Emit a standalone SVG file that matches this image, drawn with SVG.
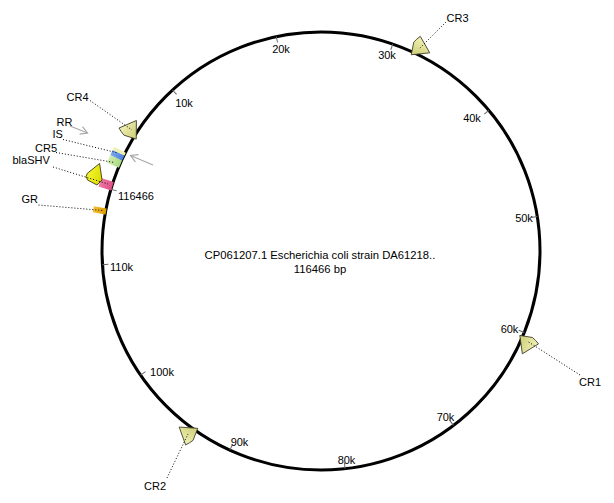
<svg xmlns="http://www.w3.org/2000/svg" width="614" height="503" viewBox="0 0 614 503">
<defs>
<style>
text{font-family:"Liberation Sans",Arial,Helvetica,sans-serif;font-size:11px;fill:#000}
.tick{stroke:#666;stroke-width:1}
.lead{stroke:#000;stroke-width:1;stroke-dasharray:1 2;fill:none}
.gray{stroke:#a8a8a8;stroke-width:1.2;fill:none;marker-end:url(#chev)}
.cr{fill:url(#gCR);stroke:#3c3c28;stroke-width:0.8}
.bla{fill:url(#gBla);stroke:#3a3a18;stroke-width:0.8}
</style>
<linearGradient id="gCR" x1="0" y1="0" x2="0" y2="1"><stop offset="0" stop-color="#f2f2b8"/><stop offset="1" stop-color="#cdcd76"/></linearGradient>
<linearGradient id="gBla" x1="0" y1="0" x2="0" y2="1"><stop offset="0" stop-color="#f4f430"/><stop offset="1" stop-color="#dcdc00"/></linearGradient>
<linearGradient id="gPink" x1="0" y1="0" x2="0" y2="1"><stop offset="0" stop-color="#ee7aa6"/><stop offset="1" stop-color="#de4f86"/></linearGradient>
<linearGradient id="gGreen" x1="0" y1="0" x2="0" y2="1"><stop offset="0" stop-color="#d2eeb0"/><stop offset="1" stop-color="#a8d880"/></linearGradient>
<linearGradient id="gBlue" x1="0" y1="0" x2="0" y2="1"><stop offset="0" stop-color="#7aa8f0"/><stop offset="1" stop-color="#4d82dc"/></linearGradient>
<linearGradient id="gOrange" x1="0" y1="0" x2="0" y2="1"><stop offset="0" stop-color="#f4c030"/><stop offset="1" stop-color="#dc9c00"/></linearGradient>
<marker id="chev" markerWidth="10" markerHeight="10" refX="8" refY="5" orient="auto" markerUnits="userSpaceOnUse"><path d="M1,1 L8,5 L1,9" fill="none" stroke="#a8a8a8" stroke-width="1.2"/></marker>
</defs>
<rect width="614" height="503" fill="#fff"/>

<g id="backbone">
<circle cx="321" cy="251" r="219" fill="none" stroke="#000" stroke-width="3"/>
<g class="tick" transform="translate(321,251)">
<line x1="0" y1="-219" x2="0" y2="-213" transform="rotate(-73.6)"/>
<line x1="0" y1="-219" x2="0" y2="-213" transform="rotate(-42.69)"/>
<line x1="0" y1="-219" x2="0" y2="-213" transform="rotate(-11.78)"/>
<line x1="0" y1="-219" x2="0" y2="-213" transform="rotate(19.13)"/>
<line x1="0" y1="-219" x2="0" y2="-213" transform="rotate(50.04)"/>
<line x1="0" y1="-219" x2="0" y2="-213" transform="rotate(80.95)"/>
<line x1="0" y1="-219" x2="0" y2="-213" transform="rotate(111.86)"/>
<line x1="0" y1="-219" x2="0" y2="-213" transform="rotate(142.77)"/>
<line x1="0" y1="-219" x2="0" y2="-213" transform="rotate(173.68)"/>
<line x1="0" y1="-219" x2="0" y2="-213" transform="rotate(204.59)"/>
<line x1="0" y1="-219" x2="0" y2="-213" transform="rotate(235.5)"/>
<line x1="0" y1="-219" x2="0" y2="-213" transform="rotate(266.41)"/>
</g>
<g text-anchor="middle" opacity="0.999">
<text x="184" y="107">10k</text>
<text x="281" y="52.5">20k</text>
<text x="387" y="59">30k</text>
<text x="472" y="122">40k</text>
<text x="524" y="222">50k</text>
<text x="509.5" y="333">60k</text>
<text x="445.5" y="421">70k</text>
<text x="346.5" y="464">80k</text>
<text x="239.5" y="446">90k</text>
<text x="162" y="376">100k</text>
<text x="121.5" y="271">110k</text>
</g>
<text x="118" y="199.5">116466</text>
<text x="320" y="259" text-anchor="middle" style="font-size:11.25px">CP061207.1 Escherichia coli strain DA61218..</text>
<text x="320" y="273" text-anchor="middle" style="font-size:11.25px">116466 bp</text>
</g>

<g id="GR">
<rect x="-3" y="-6.5" width="6" height="13" fill="url(#gOrange)" transform="translate(321,251) rotate(-79.6) translate(0,-225)"/>
<text x="21.5" y="203">GR</text>
</g>
<g id="pink-feature">
<rect x="-4.4" y="-6.6" width="8.8" height="13.2" fill="url(#gPink)" transform="translate(321,251) rotate(-72.75) translate(0,-225)"/>
</g>
<g id="CR5">
<rect x="-4.1" y="-6.5" width="8.2" height="13" fill="url(#gGreen)" transform="translate(321,251) rotate(-66.55) translate(0,-225)"/>
<text x="35" y="152">CR5</text>
</g>
<g id="IS">
<rect x="-2.75" y="-6.5" width="5.5" height="13" fill="url(#gBlue)" transform="translate(321,251) rotate(-64.8) translate(0,-225)"/>
<text x="52.5" y="138">IS</text>
</g>
<g id="RR">
<rect x="-1.6" y="-6.5" width="3.2" height="13" fill="#efefb0" transform="translate(321,251) rotate(-63.7) translate(0,-225)"/>
<text x="56.5" y="126">RR</text>
</g>
<g id="blaSHV">
<polygon class="bla" points="16.5,0.5 1.5,7.8 -4.8,4.5 -3,-5.8 -0.3,-8.4 3.4,-8.2" transform="translate(321,251) rotate(-72.4) translate(0,-238)"/>
<text x="12.5" y="164">blaSHV</text>
</g>
<g id="CR4">
<polygon class="cr" points="16,0.5 0,10 -3,-2.5 -1.5,-6.5 0.5,-10.5" transform="translate(321,251) rotate(-58.8) translate(0,-226)"/>
<text x="66.5" y="100.5">CR4</text>
</g>
<g id="CR3">
<polygon class="cr" points="16,0.5 0,10 -3,-2.5 -1.5,-6.5 0.5,-10.5" transform="translate(321,251) rotate(24.7) translate(0,-226)"/>
<text x="446.5" y="22">CR3</text>
</g>
<g id="CR1">
<polygon class="cr" points="16,0.5 0,10 -3,-2.5 -1.5,-6.5 0.5,-10.5" transform="translate(321,251) rotate(113) translate(0,-226)"/>
<text x="579" y="385.5">CR1</text>
</g>
<g id="CR2">
<polygon class="cr" points="16,0.5 0,10 -3,-2.5 -1.5,-6.5 0.5,-10.5" transform="translate(321,251) rotate(214.8) translate(0,-226)"/>
<text x="144" y="490">CR2</text>
</g>

<g id="connectors">
<line class="lead" x1="90" y1="100.5" x2="132" y2="130"/>
<line class="lead" x1="446" y1="22" x2="419" y2="49"/>
<line class="lead" x1="580" y1="375" x2="527" y2="341"/>
<line class="lead" x1="167" y1="478" x2="188" y2="434"/>
<line class="lead" x1="63" y1="139.5" x2="118" y2="153"/>
<line class="lead" x1="56" y1="152.5" x2="114.5" y2="162.5"/>
<line class="lead" x1="53" y1="167" x2="108" y2="184"/>
<line class="lead" x1="38.5" y1="205" x2="103" y2="210.5"/>
<line class="gray" x1="70" y1="126" x2="87.5" y2="133"/>
<line class="gray" x1="153" y1="165" x2="130.5" y2="155.5"/>
</g>
</svg>
